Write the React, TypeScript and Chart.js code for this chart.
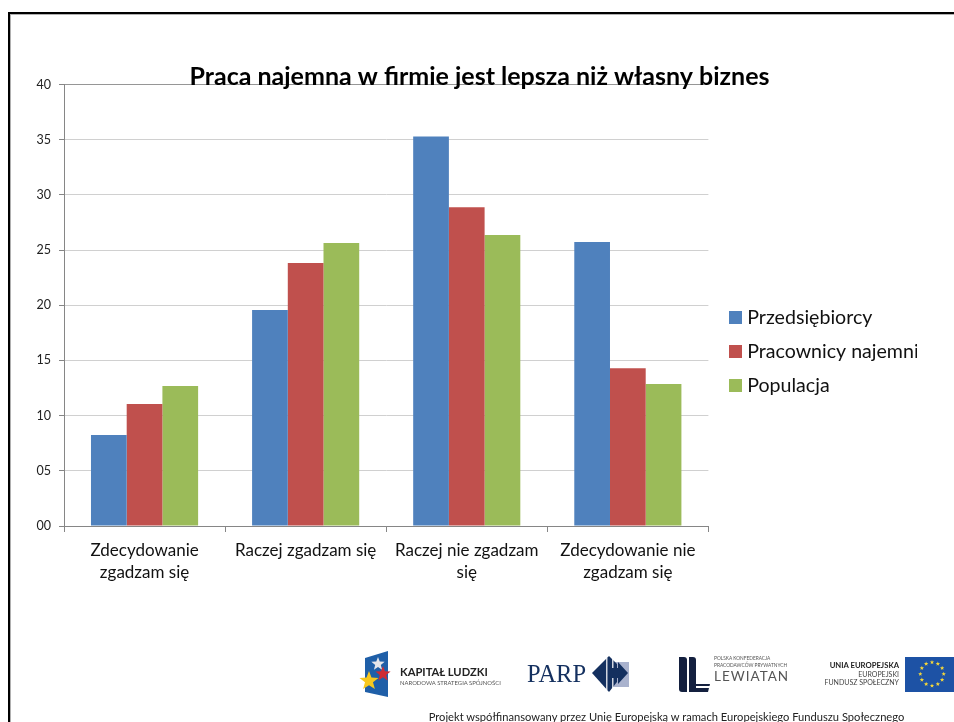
import React, { useEffect, useRef } from "react";
import { Chart, registerables } from "chart.js";

Chart.register(...registerables);

const categories = [
  ["Zdecydowanie", "zgadzam się"],
  "Raczej zgadzam się",
  ["Raczej nie zgadzam", "się"],
  ["Zdecydowanie nie", "zgadzam się"],
];
const seriesNames = ["Przedsiębiorcy", "Pracownicy najemni", "Populacja"];
const seriesColors = ["#4f81bd", "#c0504d", "#9bbb59"];
const przedsiebiorcy = [8.24, 19.57, 35.3, 25.72];
const pracownicy = [11.05, 23.83, 28.88, 14.3];
const populacja = [12.68, 25.63, 26.36, 12.86];
const titleText = "Praca najemna w firmie jest lepsza niż własny biznes";
const footerText = "Projekt współfinansowany przez Unię Europejską w ramach Europejskiego Funduszu Społecznego";

const FONT = "Lato, Carlito, 'Open Sans', sans-serif";

function starPoints(cx: number, cy: number, r: number, rot = -Math.PI / 2) {
  const pts: string[] = [];
  for (let i = 0; i < 10; i++) {
    const a = rot + (i * Math.PI) / 5;
    const rr = i % 2 === 0 ? r : r * 0.42;
    pts.push(`${(cx + rr * Math.cos(a)).toFixed(2)},${(cy + rr * Math.sin(a)).toFixed(2)}`);
  }
  return pts.join(" ");
}

const euStars = Array.from({ length: 12 }, (_, i) => (i * Math.PI) / 6);

function legendSwatch(color: string) {
  const c = document.createElement("canvas");
  c.width = 13;
  c.height = 13;
  const g = c.getContext("2d")!;
  g.fillStyle = color;
  g.fillRect(0, 0, 13, 13);
  return c;
}

const placeBlocks = {
  id: "placeBlocks",
  afterLayout(chart: any) {
    if (chart.titleBlock) chart.titleBlock.left = 42;
    if (chart.legend) {
      chart.legend.left = 720;
      chart.legend.top = 293.7;
    }
  },
};

function Logos() {
  return (
    <svg width={954} height={722} style={{ position: "absolute", left: 0, top: 0, pointerEvents: "none" }}>
      {/* Kapitał Ludzki */}
      <polygon points="365,658 388,651 388,697 365,692" fill="#1f5fa8" />
      <polygon points={starPoints(378, 664, 7)} fill="#e6e6ea" />
      <polygon points={starPoints(383, 674, 8)} fill="#cf2a32" />
      <polygon points={starPoints(369, 681, 10)} fill="#f7c81e" />
      <text x={400} y={676} fontFamily={FONT} fontSize={11.2} fontWeight={700} fill="#222">KAPITAŁ LUDZKI</text>
      <text x={400} y={685} fontFamily={FONT} fontSize={5.9} fill="#555">NARODOWA STRATEGIA SPÓJNOŚCI</text>

      {/* PARP */}
      <text x={527} y={682} fontFamily="'Liberation Serif', serif" fontSize={24.5} fill="#14305f">PARP</text>
      <rect x={612} y={662} width={17} height={25} fill="#a9b2cd" />
      <polygon points="592,673 609,656 617,664 617,682 609,692" fill="#14305f" />
      <polygon points="604,668 618,668 618,662 628,673 618,684 618,678 604,678" fill="#14305f" />
      <rect x={606} y={658} width={1.5} height={32} fill="#ffffff" opacity={0.8} />
      <rect x={612} y={658} width={1.5} height={10} fill="#ffffff" opacity={0.8} />
      <rect x={612} y={678} width={1.5} height={12} fill="#ffffff" opacity={0.8} />

      {/* Lewiatan */}
      <path d="M679 657 h5 q3 0 3 3 v32 h-5 q-3 0 -3 -3 z" fill="#14203f" />
      <path d="M689 657 h4 q3 0 3 3 v24 h14 l-2 8 h-19 z" fill="#14203f" />
      <rect x={696} y={686} width={14} height={2} fill="#ffffff" />
      <text x={714} y={660} fontFamily={FONT} fontSize={4.8} fill="#555">POLSKA KONFEDERACJA</text>
      <text x={714} y={667} fontFamily={FONT} fontSize={4.8} fill="#555">PRACODAWCÓW PRYWATNYCH</text>
      <text x={714} y={681} fontFamily={FONT} fontSize={13.5} letterSpacing={1} fill="#555">LEWIATAN</text>

      {/* EU */}
      <text x={899} y={668} textAnchor="end" fontFamily={FONT} fontSize={7.7} fontWeight={700} fill="#222">UNIA EUROPEJSKA</text>
      <text x={899} y={677} textAnchor="end" fontFamily={FONT} fontSize={7} fill="#444">EUROPEJSKI</text>
      <text x={899} y={685} textAnchor="end" fontFamily={FONT} fontSize={7} fill="#444">FUNDUSZ SPOŁECZNY</text>
      <rect x={905} y={657} width={49} height={35} fill="#1d52a5" />
      {euStars.map((a, i) => (
        <polygon key={i} points={starPoints(932 + 11.7 * Math.sin(a), 674 - 11.7 * Math.cos(a), 2.3)} fill="#f5d73a" />
      ))}

      {/* Footer */}
      <text x={666.5} y={721} textAnchor="middle" fontFamily={FONT} fontSize={11.16} fill="#222">{footerText}</text>
    </svg>
  );
}

export default function App() {
  const ref = useRef<HTMLCanvasElement>(null);
  useEffect(() => {
    const barStyle = (i: number) => ({
      label: seriesNames[i],
      backgroundColor: seriesColors[i],
      borderWidth: 0,
      categoryPercentage: 0.665,
      barPercentage: 1,
    });
    const chart = new Chart(ref.current!, {
      type: "bar",
      data: {
        labels: categories as any,
        datasets: [
          { data: przedsiebiorcy, ...barStyle(0) },
          { data: pracownicy, ...barStyle(1) },
          { data: populacja, ...barStyle(2) },
        ],
      },
      plugins: [placeBlocks],
      options: {
        responsive: false,
        animation: false,
        devicePixelRatio: 1,
        layout: { padding: { left: 0, right: 37, top: 0, bottom: 101 } },
        plugins: {
          tooltip: { enabled: false },
          title: {
            display: true,
            text: titleText,
            color: "#000000",
            font: { family: FONT, size: 25, weight: "bold" },
            padding: { top: 62, bottom: -7.5 },
          },
          legend: {
            position: "right",
            align: "start",
            labels: {
              usePointStyle: true,
              pointStyleWidth: 3,
              boxHeight: 13,
              color: "#111111",
              padding: 14.4,
              font: { family: FONT, size: 19.6 },
              generateLabels: () =>
                seriesNames.map((text, i) => ({
                  text,
                  datasetIndex: i,
                  hidden: false,
                  fontColor: "#111111",
                  pointStyle: legendSwatch(seriesColors[i]),
                })) as any,
            },
          },
        },
        scales: {
          x: {
            afterFit: (s: any) => { s.height = 95; },
            border: { color: "#868686" },
            grid: { drawOnChartArea: false, tickLength: 6, tickColor: "#868686", offset: true },
            ticks: {
              color: "#111111",
              maxRotation: 0,
              minRotation: 0,
              autoSkip: false,
              padding: 7,
              font: { family: FONT, size: 17, lineHeight: 1.3 },
            },
          },
          y: {
            min: 0,
            max: 40,
            afterFit: (s: any) => { s.width = 64; },
            border: { color: "#868686" },
            grid: {
              color: (c: any) => (c.tick && c.tick.value === 40 ? "#969696" : c.tick && c.tick.value === 0 ? "#868686" : "#d0d0d0"),
              tickColor: "#868686",
              tickLength: 5,
              lineWidth: 1,
            },
            ticks: {
              stepSize: 5,
              color: "#222222",
              padding: 8,
              font: { family: FONT, size: 12.5 },
              callback: (v: any) => String(v).padStart(2, "0"),
            },
          },
        },
      },
    } as any);
    return () => chart.destroy();
  }, []);
  return (
    <div style={{ position: "fixed", left: 0, top: 0, width: 954, height: 722, overflow: "hidden", background: "#fff" }}>
      <canvas ref={ref} width={954} height={722} style={{ position: "absolute", left: 0, top: 0, display: "block" }} />
      <div style={{ position: "absolute", left: 8, top: 12, width: 946, height: 710, borderLeft: "2.5px solid #000", borderTop: "2.5px solid #000", boxShadow: "inset 1px 1px 0 #b0b0b0" }} />
      <Logos />
    </div>
  );
}
